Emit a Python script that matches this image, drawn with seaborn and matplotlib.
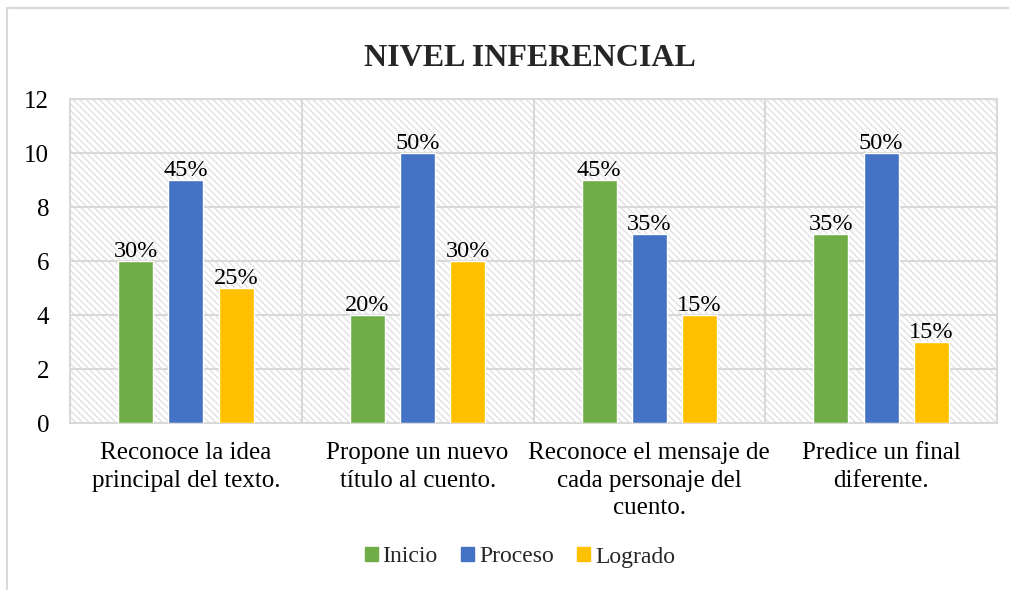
import matplotlib
matplotlib.use("Agg")
import matplotlib.pyplot as plt
import seaborn as sns
import pandas as pd
from matplotlib.patches import Rectangle
from matplotlib.lines import Line2D

categories = ["Reconoce la idea\nprincipal del texto.",
              "Propone un nuevo\ntítulo al cuento.",
              "Reconoce el mensaje de\ncada personaje del\ncuento.",
              "Predice un final\ndiferente."]
series = ["Inicio", "Proceso", "Logrado"]
inicio = [6, 4, 9, 7]
proceso = [9, 10, 7, 10]
logrado = [5, 6, 4, 3]
inicio_lbl = ["30%", "20%", "45%", "35%"]
proceso_lbl = ["45%", "50%", "35%", "50%"]
logrado_lbl = ["25%", "30%", "15%", "15%"]
colors = ["#70AD47", "#4472C4", "#FFC000"]

rows = []
for vals, labs, s in [(inicio, inicio_lbl, "Inicio"), (proceso, proceso_lbl, "Proceso"), (logrado, logrado_lbl, "Logrado")]:
    for c, v, l in zip(categories, vals, labs):
        rows.append({"cat": c, "serie": s, "val": v, "lbl": l})
df = pd.DataFrame(rows)

sns.set_theme(style="white")
plt.rcParams['font.family'] = ['Liberation Serif', 'DejaVu Serif']
plt.rcParams['hatch.linewidth'] = 0.9
plt.rcParams['hatch.color'] = '#dedede'

fig = plt.figure(figsize=(10.09, 5.9), dpi=100)
ax = fig.add_axes([70/1009, 1-423/590, (997-70)/1009, (423-99)/590])

bg = Rectangle((0, 0), 1, 1, transform=ax.transAxes, facecolor='white',
               edgecolor='#dedede', hatch='\\\\\\\\\\', linewidth=0, zorder=0)
ax.add_patch(bg)

sns.barplot(data=df, x="cat", y="val", hue="serie", order=categories, hue_order=series,
            palette=colors, width=0.65, gap=0.3, ax=ax, zorder=3, saturation=1)

for cont, s in zip(ax.containers, series):
    labs = df[df.serie == s].set_index("cat").loc[categories, "lbl"].tolist()
    ax.bar_label(cont, labels=labs, fontsize=17.5, padding=-1, color='#000000')

ax.set_ylim(0, 12)
ax.set_xlim(-0.5, 3.5)
ax.set_yticks(range(0, 13, 2))
for y in range(2, 13, 2):
    ax.axhline(y, color='#d9d9d9', lw=1.5, zorder=1)
for x in [0.5, 1.5, 2.5]:
    ax.axvline(x, color='#d9d9d9', lw=1.5, zorder=1)
for sp in ax.spines.values():
    sp.set_color('#d9d9d9')
    sp.set_linewidth(1.5)
    sp.set_visible(True)
ax.set_xlabel("")
ax.set_ylabel("")
ax.tick_params(axis='both', length=0, labelsize=18, colors='#000000')
ax.tick_params(axis='x', pad=14)
ax.tick_params(axis='y', pad=15)
for t in ax.get_xticklabels():
    t.set_linespacing(1.3)

ax.legend_.remove()
handles = [Rectangle((0, 0), 1, 1, color=c) for c in colors]
fig.legend(handles, series, loc='center', bbox_to_anchor=(520/1009, 1-557/590), ncol=3,
           frameon=False, fontsize=17, handlelength=0.55, handleheight=0.55,
           handletextpad=0.2, columnspacing=1.0)

fig.text(530/1009, 1-58/590, "NIVEL INFERENCIAL", ha='center', va='center',
         fontsize=23, fontweight='bold')

fig.add_artist(Line2D([7/1009, 1], [1-8/590, 1-8/590], color='#d9d9d9', lw=1.5))
fig.add_artist(Line2D([7/1009, 7/1009], [0, 1-8/590], color='#d9d9d9', lw=1.5))

fig.savefig("out.png", dpi=100)
